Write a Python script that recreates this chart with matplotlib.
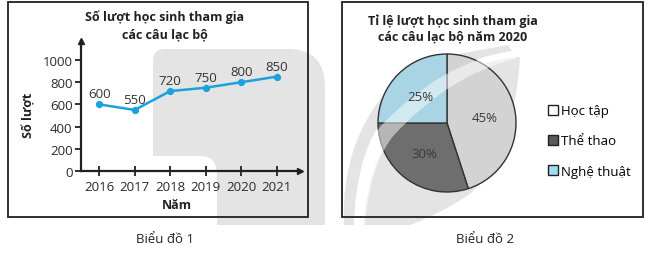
import matplotlib
matplotlib.use("Agg")
import matplotlib.pyplot as plt
from matplotlib.patches import Rectangle, Patch, PathPatch
from matplotlib.path import Path

plt.rcParams["font.family"] = ["Open Sans", "DejaVu Sans"]

# --- dữ liệu ---
years = ["2016", "2017", "2018", "2019", "2020", "2021"]
luot = [600, 550, 720, 750, 800, 850]
yticks = [0, 200, 400, 600, 800, 1000]

clubs = ["Học tập", "Thể thao", "Nghệ thuật"]
shares = [45, 30, 25]
pie_colors = ["#d3d3d3", "#6e6e6e", "#a8d4e4"]
legend_colors = ["#ffffff", "#5a5a5a", "#9fdcf4"]

W, H = 651, 255
fig = plt.figure(figsize=(W / 100, H / 100), dpi=100)
INK = "#231f20"
WM = "#e4e4e4"  # màu watermark


def P(x, y):
    return (x / W, 1 - y / H)


def px_axes(x, y, w, h):
    return fig.add_axes([x / W, 1 - (y + h) / H, w / W, h / H])


def px_text(x, y, s, **kw):
    fig.text(x / W, 1 - y / H, s, **kw)


def make_shape(pts, codes, **kw):
    return PathPatch(Path([P(*q) for q in pts], codes), transform=fig.transFigure, **kw)


M, L, C3, CL = Path.MOVETO, Path.LINETO, Path.CURVE3, Path.CLOSEPOLY

# watermark (logo mờ phía sau)
fig.patches.append(make_shape(
    [(153, 62), (153, 50), (165, 50), (288, 50), (325, 50), (325, 88),
     (325, 226), (217, 226), (217, 175), (217, 157), (200, 157), (153, 157), (153, 62)],
    [M, C3, C3, L, C3, C3, L, L, L, C3, C3, L, CL], fc=WM, ec="none", zorder=-1))
fig.patches.append(make_shape(
    [(344, 226), (340, 120), (420, 62), (508, 46), (512, 52), (440, 62), (380, 125),
     (356, 160), (354, 226), (344, 226)],
    [M, C3, C3, L, L, C3, C3, C3, C3, CL], fc=WM, ec="none", zorder=-1))
fig.patches.append(make_shape(
    [(364, 226), (368, 150), (420, 95), (470, 62), (520, 58), (515, 150), (470, 195),
     (440, 215), (410, 226), (364, 226)],
    [M, C3, C3, C3, L, C3, C3, C3, C3, CL], fc=WM, ec="none", zorder=-1))

# khung hai biểu đồ
for x0, x1 in [(8, 308), (342, 643)]:
    fig.patches.append(Rectangle(P(x0, 218), (x1 - x0) / W, 215 / H,
                                 transform=fig.transFigure, fill=False,
                                 ec=INK, lw=1.3, zorder=5))

# ---------- Biểu đồ 1 ----------
ax = px_axes(81, 42, 219, 130)
xs = list(range(len(years)))
ax.plot(xs, luot, color="#1ba1de", lw=1.8, marker="o", ms=4.2, zorder=3)
for x, v in zip(xs, luot):
    ax.annotate(str(v), (x, v), xytext=(0, 7.5), textcoords="offset points",
                ha="center", va="center", fontsize=9.5, color="#333333")
ax.set_xlim(-0.51, 5.65)
ax.set_ylim(0, 1171)
ax.set_xticks(xs)
ax.set_xticklabels(years)
ax.set_yticks(yticks)
ax.tick_params(axis="y", direction="out", length=4, width=1.3, color=INK,
               labelsize=9.5, labelcolor="#2a2a2a", pad=2)
ax.tick_params(axis="x", direction="inout", length=7, width=1.3, color=INK,
               labelsize=9.5, labelcolor="#2a2a2a", pad=3)
for s in ["top", "right"]:
    ax.spines[s].set_visible(False)
for s in ["left", "bottom"]:
    ax.spines[s].set_linewidth(1.6)
    ax.spines[s].set_color(INK)
ax.plot(1, 0, ">", color=INK, ms=5, transform=ax.transAxes, clip_on=False)
ax.plot(0, 1, "^", color=INK, ms=5, transform=ax.transAxes, clip_on=False)
ax.patch.set_alpha(0)

px_text(165, 17, "Số lượt học sinh tham gia", ha="center", va="center",
        fontsize=9, fontweight="bold", color=INK)
px_text(165, 35, "các câu lạc bộ", ha="center", va="center",
        fontsize=9, fontweight="bold", color=INK)
px_text(29, 115, "Số lượt", ha="center", va="center", rotation=90,
        fontsize=9, fontweight="bold", color=INK)
px_text(177, 206, "Năm", ha="center", va="center",
        fontsize=9, fontweight="bold", color=INK)
px_text(165, 240, "Biểu đồ 1", ha="center", va="center", fontsize=9.5,
        color="#222222")

# ---------- Biểu đồ 2 ----------
pax = px_axes(378, 55, 138, 138)
wedges, texts, autotexts = pax.pie(
    shares, colors=pie_colors, startangle=90, counterclock=False,
    autopct="%d%%", pctdistance=0.55,
    wedgeprops=dict(edgecolor="#333333", linewidth=1.0),
    textprops=dict(fontsize=9.5, color="#3a3a3a", zorder=4))
pax.set_xlim(-1.0, 1.0)
pax.set_ylim(-1.0, 1.0)
pax.patch.set_alpha(0)

# dải sáng của watermark đè lên hình tròn (dưới chữ %)
band = make_shape(
    [(354, 226), (356, 160), (380, 128), (440, 64), (512, 52), (516, 60),
     (452, 74), (394, 136), (370, 165), (365, 226), (354, 226)],
    [M, C3, C3, C3, L, L, C3, C3, C3, L, CL], fc="white", alpha=0.5,
    ec="none", zorder=2, clip_on=False)
pax.add_artist(band)

handles = [Patch(facecolor=c, edgecolor=INK, lw=1) for c in legend_colors]
fig.legend(handles, clubs, loc="center left",
           bbox_to_anchor=(543 / W, 1 - 142 / H), frameon=False,
           fontsize=9.5, handlelength=0.75, handleheight=0.75,
           handletextpad=0.25, labelspacing=1.3, borderaxespad=0)

px_text(453, 21, "Tỉ lệ lượt học sinh tham gia", ha="center", va="center",
        fontsize=9, fontweight="bold", color=INK)
px_text(453, 37, "các câu lạc bộ năm 2020", ha="center", va="center",
        fontsize=9, fontweight="bold", color=INK)
px_text(485, 240, "Biểu đồ 2", ha="center", va="center", fontsize=9.5,
        color="#222222")

fig.savefig("out.png", dpi=100)
